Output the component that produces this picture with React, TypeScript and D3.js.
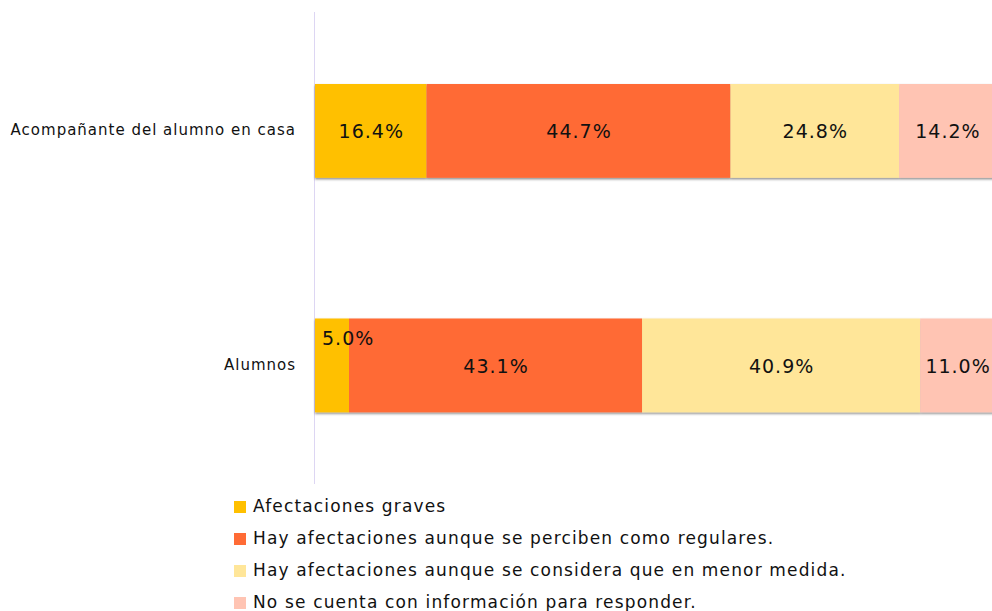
import React from "react";
import * as d3 from "d3";

const categories = ["Acompañante del alumno en casa", "Alumnos"];
const seriesNames = [
  "Afectaciones graves",
  "Hay afectaciones aunque se perciben como regulares.",
  "Hay afectaciones aunque se considera que en menor medida.",
  "No se cuenta con información para responder.",
];
const acompananteValues = [16.4, 44.7, 24.8, 14.2];
const alumnosValues = [5.0, 43.1, 40.9, 11.0];
const colors = ["#FFC000", "#FF6B35", "#FFE699", "#FFC4B3"];

const W = 992;
const H = 611;
const FONT = "'DejaVu Sans', sans-serif";

export default function App() {
  const x = d3.scaleLinear().domain([0, 100]).range([315, 995]);
  const y = d3
    .scaleBand<string>()
    .domain(categories)
    .range([13.65, 482.65])
    .paddingInner(0.6)
    .paddingOuter(0.3);

  const rows = [acompananteValues, alumnosValues];
  const stacked = rows.map((vals, ri) => {
    let acc = 0;
    return vals.map((v, si) => {
      const s = { cat: categories[ri], x0: acc, x1: acc + v, v, si };
      acc += v;
      return s;
    });
  });

  const legendY = [507, 539, 571, 603];

  return (
    <div style={{ position: "absolute", left: 0, top: 0 }}>
      <svg width={W} height={H} style={{ display: "block" }}>
        <defs>
          <filter id="shadow" x="-5%" y="-10%" width="110%" height="130%">
            <feDropShadow dx="0" dy="1.5" stdDeviation="1" floodColor="#000" floodOpacity="0.45" />
          </filter>
        </defs>
        <rect width={W} height={H} fill="#fff" />
        <line x1={314.5} x2={314.5} y1={12} y2={484} stroke="#ddd6f3" strokeWidth={1} />
        {stacked.map((row, ri) => (
          <g key={ri} filter="url(#shadow)">
            {row.map((s) => (
              <rect
                key={s.si}
                x={x(s.x0)}
                y={y(s.cat)!}
                width={x(s.x1) - x(s.x0)}
                height={y.bandwidth()}
                fill={colors[s.si]}
              />
            ))}
          </g>
        ))}
        {stacked.map((row, ri) =>
          row.map((s) => {
            const w = x(s.x1) - x(s.x0);
            const small = w < 60;
            const tx = small ? x(s.x0) + 7 : (x(s.x0) + x(s.x1)) / 2 + 0.5;
            const ty = small ? y(s.cat)! + 21 : y(s.cat)! + y.bandwidth() / 2 + 2;
            return (
              <text
                key={`${ri}-${s.si}`}
                x={tx}
                y={ty}
                textAnchor={small ? "start" : "middle"}
                dominantBaseline="middle"
                fontFamily={FONT}
                fontSize={19}
                letterSpacing={1}
                fill="#111"
              >
                {s.v.toFixed(1)}%
              </text>
            );
          })
        )}
        {categories.map((c) => (
          <text
            key={c}
            x={296}
            y={y(c)! + y.bandwidth() / 2}
            textAnchor="end"
            dominantBaseline="middle"
            fontFamily={FONT}
            fontSize={15}
            letterSpacing={1}
            fill="#111"
          >
            {c}
          </text>
        ))}
        {seriesNames.map((n, i) => (
          <g key={n} transform={`translate(234, ${legendY[i]})`}>
            <rect x={0} y={-6} width={12} height={12} fill={colors[i]} />
            <text x={19} y={0} dominantBaseline="middle" fontFamily={FONT} fontSize={17} letterSpacing={1.15} fill="#111">
              {n}
            </text>
          </g>
        ))}
      </svg>
    </div>
  );
}
